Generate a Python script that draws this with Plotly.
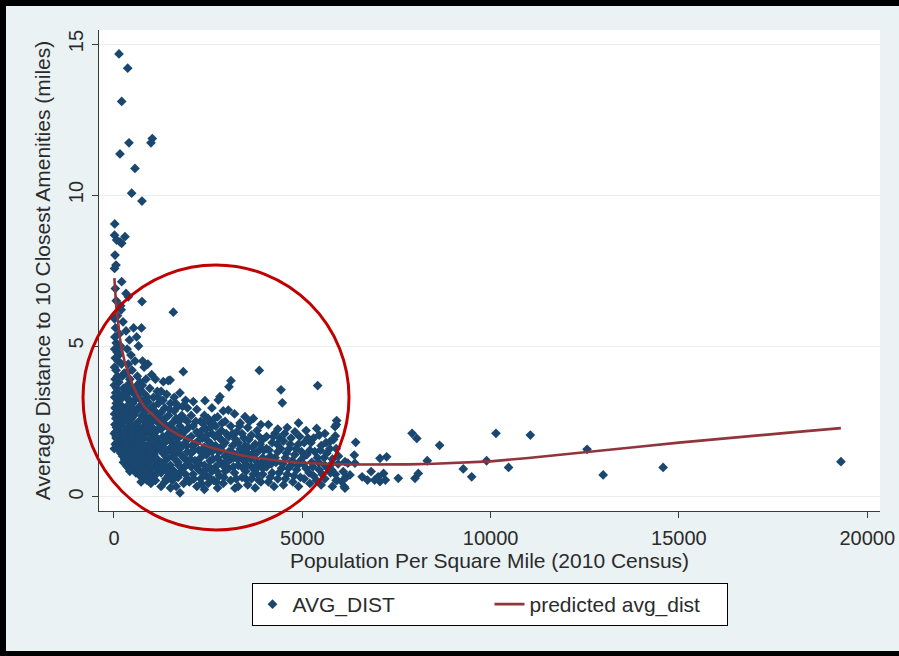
import plotly.graph_objects as go

# ---------------- data: (population per square mile, average distance in miles) ----------------
outliers_high = [(133, 14.67), (364, 14.2), (204, 13.1), (398, 11.73), (159, 11.36), (982, 11.73),
                 (1017, 11.87), (557, 10.88), (469, 10.06), (743, 9.80), (20, 9.04), (15, 8.67),
                 (70, 8.51), (159, 8.45), (204, 8.40), (292, 8.62), (27, 8.01), (15, 7.57), (53, 7.68),
                 (204, 7.13), (319, 6.74), (380, 6.63), (743, 6.47), (1575, 6.12), (177, 6.33),
                 (35, 6.9), (60, 6.5)]

band_0_300 = [(15, 5.9), (40, 5.6), (25, 5.3), (60, 5.1), (20, 4.9), (80, 4.8), (35, 4.6), (110, 4.5),
              (15, 4.3), (55, 4.2), (90, 4.0), (30, 3.9), (130, 3.8), (10, 3.7), (70, 3.6), (45, 3.45),
              (150, 3.4), (20, 3.3), (100, 3.2), (60, 3.1), (180, 3.05), (30, 2.95), (120, 2.9), (80, 2.8),
              (15, 2.75), (200, 2.7), (50, 2.6), (140, 2.55), (95, 2.45), (25, 2.4), (170, 2.35), (65, 2.3),
              (110, 2.2), (40, 2.15), (220, 2.1), (85, 2.05), (150, 2.0), (55, 1.95), (190, 1.9),
              (120, 1.85), (75, 1.8), (240, 1.75), (160, 1.7), (100, 1.65), (210, 1.6), (130, 1.55),
              (260, 1.5), (180, 1.45), (230, 1.35), (280, 1.25), (250, 1.15), (270, 4.1), (250, 3.6),
              (230, 3.3), (280, 2.9), (260, 2.5), (200, 4.4), (170, 5.0), (140, 5.4), (240, 5.8),
              (90, 6.0), (190, 6.2), (130, 4.7), (220, 4.0), (290, 3.5), (60, 2.0), (35, 1.75),
              (10, 2.1), (10, 1.6)]

band_300_700 = [(320, 5.5), (410, 5.2), (350, 4.9), (520, 5.6), (600, 5.3), (450, 4.7), (650, 5.0),
                (380, 4.4), (560, 4.5), (480, 4.2), (330, 4.1), (620, 4.0), (420, 3.9), (690, 3.8),
                (360, 3.7), (540, 3.6), (460, 3.5), (310, 3.4), (640, 3.4), (400, 3.2), (580, 3.25),
                (500, 3.1), (340, 3.0), (680, 3.0), (440, 2.9), (600, 2.85), (370, 2.75), (530, 2.7),
                (470, 2.6), (320, 2.55), (660, 2.5), (410, 2.45), (560, 2.4), (350, 2.3), (500, 2.25),
                (620, 2.2), (440, 2.1), (380, 2.0), (580, 2.0), (690, 1.95), (330, 1.9), (520, 1.85),
                (460, 1.8), (640, 1.75), (400, 1.7), (560, 1.6), (350, 1.55), (490, 1.5), (610, 1.45),
                (430, 1.4), (670, 1.35), (540, 1.3), (380, 1.25), (600, 1.15), (470, 1.1), (650, 1.05),
                (520, 0.95), (700, 0.9), (580, 0.8), (690, 0.7), (350, 1.0), (420, 0.85), (480, 1.2),
                (560, 1.05), (630, 1.25), (310, 1.3), (450, 1.6), (520, 2.05), (600, 1.9), (660, 2.3),
                (390, 2.6), (480, 2.95), (550, 3.4), (430, 3.65), (620, 3.7), (350, 3.3), (700, 3.55),
                (300, 2.2), (360, 1.8), (620, 1.6)]

band_700_1200 = [(730, 5.6), (760, 4.5), (800, 4.3), (900, 4.4), (1000, 4.05), (850, 3.9), (1100, 3.9),
                 (750, 3.7), (950, 3.6), (1150, 3.5), (820, 3.4), (1050, 3.3), (720, 3.2), (900, 3.15),
                 (1180, 3.1), (780, 3.0), (1000, 2.95), (860, 2.85), (1120, 2.8), (740, 2.7), (960, 2.65),
                 (1060, 2.55), (820, 2.5), (1180, 2.45), (900, 2.4), (760, 2.3), (1020, 2.3), (1140, 2.2),
                 (870, 2.15), (720, 2.1), (980, 2.05), (1100, 2.0), (800, 1.95), (940, 1.9), (1180, 1.85),
                 (740, 1.8), (1050, 1.75), (880, 1.7), (990, 1.6), (780, 1.55), (1130, 1.55), (920, 1.45),
                 (1060, 1.4), (820, 1.35), (730, 1.25), (1000, 1.25), (1170, 1.2), (880, 1.15),
                 (780, 1.05), (1090, 1.05), (950, 0.95), (720, 0.85), (1150, 0.9), (850, 0.8),
                 (1020, 0.75), (760, 0.65), (920, 0.6), (1100, 0.55), (720, 0.5), (980, 0.45),
                 (760, 1.4), (840, 1.2), (910, 1.35), (970, 1.1), (1030, 1.55), (1110, 1.3), (1160, 1.0),
                 (800, 2.2), (860, 2.6), (940, 2.2), (1000, 2.5), (1080, 2.15), (1150, 2.65), (1200, 1.7),
                 (760, 2.95), (880, 3.3), (1040, 3.0), (1160, 3.3), (950, 1.7), (1080, 0.7), (880, 0.55),
                 (1000, 1.45), (1120, 1.75), (740, 1.6), (800, 0.9)]

band_1200_2000 = [(1310, 3.82), (1440, 3.85), (1490, 3.87), (1840, 4.15), (1250, 3.5), (1400, 3.4),
                  (1600, 3.3), (1750, 3.45), (1300, 3.2), (1900, 3.2), (1500, 3.1), (1700, 3.0),
                  (1350, 2.95), (1950, 2.95), (1600, 2.85), (1250, 2.8), (1450, 2.7), (1800, 2.7),
                  (1650, 2.6), (1300, 2.55), (1950, 2.5), (1550, 2.45), (1400, 2.35), (1750, 2.35),
                  (1250, 2.25), (1900, 2.2), (1600, 2.2), (1450, 2.1), (1800, 2.05), (1300, 2.0),
                  (1700, 1.95), (1950, 1.9), (1500, 1.85), (1350, 1.8), (1850, 1.75), (1600, 1.7),
                  (1250, 1.65), (1750, 1.6), (1450, 1.55), (1950, 1.5), (1300, 1.45), (1650, 1.45),
                  (1550, 1.35), (1850, 1.3), (1400, 1.25), (1250, 1.15), (1700, 1.15), (1950, 1.1),
                  (1500, 1.05), (1350, 0.95), (1800, 0.95), (1600, 0.85), (1250, 0.8), (1900, 0.75),
                  (1450, 0.7), (1700, 0.65), (1550, 0.55), (1350, 0.5), (1850, 0.45), (1650, 0.35),
                  (1752, 0.14), (1500, 0.3), (1950, 0.6), (1250, 0.35), (1300, 1.1), (1380, 1.35),
                  (1420, 1.9), (1480, 1.6), (1530, 0.9), (1570, 2.0), (1620, 1.25), (1680, 1.8),
                  (1720, 2.5), (1780, 1.4), (1820, 2.2), (1880, 1.0), (1920, 1.7), (1980, 2.3),
                  (1280, 2.4), (1360, 2.6), (1520, 2.3), (1660, 2.15), (1860, 2.6), (1420, 0.85),
                  (1580, 0.7), (1760, 0.8), (1900, 1.25), (1340, 1.6), (1480, 2.9), (1640, 3.1),
                  (1820, 3.0), (1380, 0.6), (1560, 1.5), (1720, 1.05)]

band_2000_3000 = [(2106, 3.16), (2416, 3.19), (2814, 3.32), (2770, 3.21), (2200, 2.9), (2600, 2.95),
                  (2900, 2.85), (2050, 2.7), (2400, 2.7), (2750, 2.65), (2300, 2.5), (2550, 2.45),
                  (2950, 2.5), (2100, 2.35), (2700, 2.35), (2450, 2.25), (2850, 2.2), (2200, 2.15),
                  (2600, 2.1), (2050, 2.0), (2350, 1.95), (2800, 1.95), (2500, 1.85), (2950, 1.8),
                  (2150, 1.75), (2700, 1.7), (2400, 1.65), (2250, 1.55), (2850, 1.55), (2600, 1.5),
                  (2050, 1.45), (2450, 1.4), (2950, 1.35), (2300, 1.3), (2750, 1.3), (2150, 1.2),
                  (2550, 1.2), (2900, 1.1), (2400, 1.05), (2050, 1.0), (2700, 1.0), (2250, 0.9),
                  (2600, 0.85), (2950, 0.85), (2100, 0.75), (2450, 0.7), (2800, 0.7), (2300, 0.6),
                  (2650, 0.55), (2000, 0.5), (2500, 0.45), (2900, 0.45), (2200, 0.35), (2750, 0.3),
                  (2400, 0.25), (2350, 0.8), (2850, 1.9), (2500, 2.6), (2030, 1.25), (2120, 1.55),
                  (2180, 1.0), (2230, 1.85), (2280, 1.1), (2330, 2.2), (2380, 1.45), (2430, 0.9),
                  (2480, 1.6), (2530, 1.0), (2580, 1.75), (2630, 1.25), (2680, 2.0), (2730, 0.85),
                  (2780, 1.5), (2830, 1.15), (2880, 1.7), (2930, 1.0), (2980, 2.1), (2070, 1.7),
                  (2170, 2.5), (2270, 2.05), (2370, 2.45), (2470, 2.05), (2570, 2.3), (2670, 2.6),
                  (2770, 2.1), (2870, 2.45), (2120, 0.6), (2320, 0.45), (2520, 0.65), (2720, 0.5),
                  (2920, 0.65)]

band_3000_4000 = [(3106, 3.85), (3053, 3.65), (3858, 4.19), (3035, 2.88), (3478, 2.66), (3200, 2.75),
                  (3700, 2.6), (3350, 2.45), (3900, 2.4), (3100, 2.35), (3550, 2.3), (3800, 2.2),
                  (3250, 2.15), (3650, 2.05), (3050, 2.0), (3450, 1.95), (3950, 1.9), (3300, 1.8),
                  (3750, 1.75), (3150, 1.7), (3550, 1.65), (3900, 1.6), (3400, 1.55), (3050, 1.5),
                  (3700, 1.45), (3250, 1.4), (3600, 1.3), (3950, 1.3), (3100, 1.25), (3450, 1.2),
                  (3800, 1.15), (3300, 1.05), (3650, 1.0), (3050, 0.95), (3950, 0.95), (3500, 0.85),
                  (3200, 0.8), (3800, 0.75), (3400, 0.65), (3650, 0.6), (3100, 0.55), (3900, 0.5),
                  (3212, 0.29), (3550, 0.4), (3300, 0.35), (3750, 0.3), (3850, 0.55), (3030, 1.2),
                  (3120, 1.5), (3170, 1.0), (3230, 1.9), (3280, 1.25), (3330, 2.35), (3380, 1.4),
                  (3430, 0.95), (3480, 1.7), (3530, 1.05), (3580, 1.9), (3630, 1.25), (3680, 1.65),
                  (3730, 0.95), (3780, 1.45), (3830, 1.0), (3880, 1.75), (3930, 1.15), (3980, 1.55),
                  (3150, 2.1), (3400, 2.1), (3600, 2.5), (3850, 2.0), (3250, 0.6), (3500, 0.6),
                  (3700, 0.75), (3950, 0.75), (3350, 1.6), (3560, 1.45), (3180, 1.3)]

band_4000_5000 = [(4434, 3.55), (4469, 3.12), (4275, 2.11), (4806, 2.16), (4100, 2.4), (4600, 2.3),
                  (4900, 2.45), (4350, 2.25), (4050, 2.0), (4700, 1.95), (4500, 1.85), (4200, 1.8),
                  (4900, 1.75), (4050, 1.6), (4650, 1.6), (4350, 1.5), (4800, 1.4), (4150, 1.35),
                  (4550, 1.3), (4950, 1.2), (4300, 1.15), (4700, 1.05), (4050, 1.0), (4450, 0.95),
                  (4850, 0.9), (4200, 0.8), (4600, 0.75), (4950, 0.65), (4350, 0.6), (4100, 0.5),
                  (4750, 0.5), (4500, 0.4), (4250, 0.35), (4900, 0.35), (4030, 1.2), (4120, 1.55),
                  (4180, 1.1), (4230, 2.0), (4280, 1.3), (4330, 1.75), (4380, 0.8), (4430, 1.6),
                  (4480, 1.1), (4530, 2.1), (4580, 1.45), (4630, 0.95), (4680, 1.75), (4730, 1.2),
                  (4780, 0.7), (4830, 1.6), (4880, 1.05), (4930, 2.0), (4400, 1.95), (4150, 0.65),
                  (4550, 0.6), (4980, 1.5)]

band_5000_6000 = [(5408, 3.69), (5381, 2.27), (5912, 2.53), (5868, 2.33), (5905, 2.40), (5877, 2.02),
                  (5100, 2.2), (5600, 2.1), (5300, 1.95), (5750, 1.85), (5050, 1.8), (5500, 1.7),
                  (5900, 1.6), (5200, 1.55), (5650, 1.45), (5050, 1.35), (5400, 1.3), (5800, 1.25),
                  (5250, 1.15), (5600, 1.05), (5950, 1.1), (5100, 0.95), (5450, 0.9), (5750, 0.8),
                  (5300, 0.7), (5050, 0.6), (5600, 0.6), (5900, 0.55), (5200, 0.45), (5500, 0.4),
                  (5800, 0.35), (5783, 0.89), (5924, 0.56), (5030, 1.1), (5120, 1.4), (5180, 0.8),
                  (5230, 1.8), (5280, 1.0), (5330, 1.5), (5380, 0.55), (5430, 1.15), (5480, 1.55),
                  (5530, 0.75), (5580, 1.3), (5630, 1.8), (5680, 0.95), (5730, 1.6), (5780, 1.1),
                  (5830, 1.9), (5880, 0.75), (5960, 1.35), (5450, 2.05), (5150, 1.95)]

band_6000_plus = [(6114, 0.34), (6160, 0.67), (6210, 1.12), (6398, 1.12), (6417, 1.81), (6380, 1.39),
                  (6133, 1.17), (6178, 0.67), (6133, 0.29), (6088, 0.84), (6266, 0.73), (6045, 0.51),
                  (6588, 0.67), (6731, 0.56), (6827, 0.84), (6920, 0.56), (7014, 0.67), (7158, 0.78),
                  (7062, 1.28), (7240, 1.33), (7205, 0.56), (7062, 0.51), (7548, 0.62), (7915, 2.11),
                  (8040, 1.94), (8645, 1.71), (7992, 0.62), (8080, 0.78), (8318, 1.20), (9274, 0.93),
                  (9497, 0.67), (9893, 1.20), (10477, 0.98), (10142, 2.11), (11055, 2.05),
                  (12561, 1.58), (12988, 0.73), (14581, 0.98), (19302, 1.17)]

# fitted curve
curve_pop = [10, 30, 60, 100, 150, 200, 280, 380, 500, 646, 800, 1000, 1250, 1487, 1750, 2018, 2300,
             2637, 3000, 3345, 3700, 4053, 4450, 4850, 5300, 5735, 6400, 7062, 7800, 8500, 9300, 10000,
             11000, 12000, 13000, 14000, 15000, 16000, 17000, 18000, 19300]
curve_dist = [7.25, 6.7, 6.3, 5.9, 5.3, 4.95, 4.5, 4.1, 3.7, 3.32, 3.0, 2.75, 2.45, 2.22, 2.03, 1.89,
              1.75, 1.61, 1.49, 1.39, 1.31, 1.25, 1.19, 1.14, 1.11, 1.09, 1.075, 1.07, 1.08, 1.10, 1.13,
              1.18, 1.29, 1.41, 1.54, 1.67, 1.80, 1.92, 2.03, 2.14, 2.28]

x_ticks = [0, 5000, 10000, 15000, 20000]
x_tick_labels = ["0", "5000", "10000", "15000", "20000"]
y_ticks = [0, 5, 10, 15]
y_tick_labels = ["0", "5", "10", "15"]

# ---------------- figure ----------------
all_pts = (outliers_high + band_0_300 + band_300_700 + band_700_1200 + band_1200_2000 +
           band_2000_3000 + band_3000_4000 + band_4000_5000 + band_5000_6000 + band_6000_plus)
pop = [p[0] for p in all_pts]
dist = [p[1] for p in all_pts]

NAVY = "#1a476f"
MAROON = "#90353b"
FONT = "Arial, Liberation Sans, sans-serif"
TXT = "#2b2b2b"

W, H = 899, 656
L, R, T, B = 99, 19, 30, 145
PW, PH = W - L - R, H - T - B


def px_x(p):
    return (p - L) / PW


def px_y(p):
    return (H - B - p) / PH


fig = go.Figure()
fig.add_trace(go.Scatter(x=pop, y=dist, mode="markers", name="AVG_DIST",
                         marker=dict(symbol="diamond", size=7.5, color=NAVY,
                                     line=dict(width=0))))
fig.add_trace(go.Scatter(x=curve_pop, y=curve_dist, mode="lines", name="predicted avg_dist",
                         line=dict(color=MAROON, width=2.6)))

axis_common = dict(showline=True, linecolor="#3a3a3a", linewidth=1.2, ticks="outside",
                   ticklen=6, tickwidth=1.2, tickcolor="#3a3a3a", zeroline=False, automargin=False,
                   tickfont=dict(family=FONT, size=20, color=TXT))

fig.update_xaxes(range=[-398, 20339], tickvals=x_ticks, ticktext=x_tick_labels, showgrid=False,
                 title=dict(text="Population Per Square Mile (2010 Census)", standoff=3,
                            font=dict(family=FONT, size=21, color=TXT)),
                 ticklabelstandoff=3, **axis_common)
fig.update_yaxes(range=[-0.464, 15.464], tickvals=y_ticks, ticktext=y_tick_labels, showgrid=True,
                 gridcolor="#eaeef0", gridwidth=1, tickangle=-90,
                 title=dict(text="Average Distance to 10 Closest Amenities (miles)", standoff=8,
                            font=dict(family=FONT, size=21, color=TXT)),
                 ticklabelstandoff=1, **axis_common)

BLACK_BAND = dict(type="rect", xref="paper", yref="paper", fillcolor="black",
                  line=dict(width=0), layer="above")
shapes = [
    # red highlight circle
    dict(type="circle", xref="paper", yref="paper",
         x0=px_x(83), x1=px_x(349), y0=px_y(530), y1=px_y(265),
         line=dict(color="#c00000", width=3), layer="above"),
    # black frame round the picture (top, left and bottom; the right side is cut off)
    dict(BLACK_BAND, x0=px_x(0), x1=px_x(899), y0=px_y(6), y1=px_y(0)),
    dict(BLACK_BAND, x0=px_x(0), x1=px_x(6), y0=px_y(656), y1=px_y(0)),
    dict(BLACK_BAND, x0=px_x(0), x1=px_x(899), y0=px_y(656), y1=px_y(651)),
]

fig.update_layout(
    width=W, height=H, autosize=False,
    margin=dict(l=L, r=R, t=T, b=B, autoexpand=False),
    paper_bgcolor="#eaf2f3", plot_bgcolor="white",
    font=dict(family=FONT, color=TXT),
    showlegend=True,
    legend=dict(orientation="h", x=0.5, xanchor="center", y=px_y(583), yanchor="top",
                bgcolor="white", bordercolor="black", borderwidth=1,
                font=dict(family=FONT, size=21, color=TXT),
                entrywidth=192, entrywidthmode="pixels", itemwidth=30),
    shapes=shapes,
)

fig.write_html("out.html", config={"displayModeBar": False},
               post_script="document.body.style.margin='0';document.body.style.overflow='hidden';")
